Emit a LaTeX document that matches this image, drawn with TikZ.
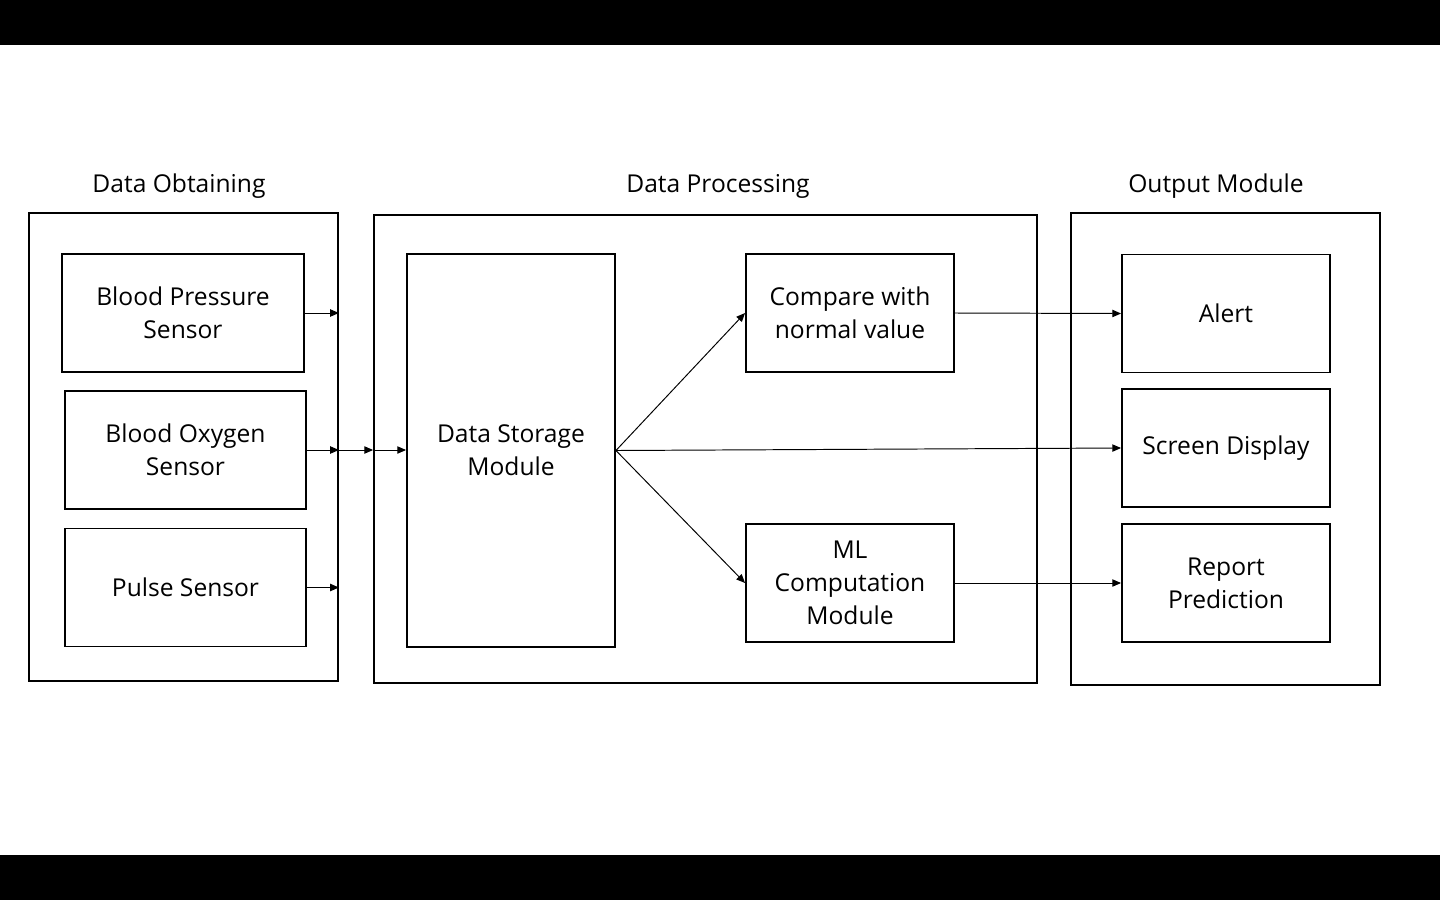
\documentclass[tikz,border=0pt]{standalone}
\usepackage{fontspec}
\setmainfont{Open Sans}
\usetikzlibrary{arrows.meta}
\tikzset{rahmen/.style = {
    shape = rectangle, draw = black, line width = 1.1pt,
    minimum width = 6.18cm, minimum height = 9.36cm
}}
\tikzset{kasten/.style = {
    shape = rectangle, draw = black, line width = 1.1pt, align = center,
    minimum width = 4.16cm, minimum height = 2.36cm,
    font = \fontsize{14}{18.7}\selectfont
}}
\tikzset{titel/.style = {
    font = \fontsize{14}{18.7}\selectfont
}}
\tikzset{pfeil/.style = {
    line width = 0.55pt, -{Triangle[length=5pt,width=4.2pt]}
}}

\begin{document}
\begin{tikzpicture}[x=0.02cm, y=-0.02cm]
  \useasboundingbox (0,0) rectangle (1440,900);
  \fill[black] (0,0) rectangle (1440,45);
  \fill[black] (0,855) rectangle (1440,900);

  % Rahmen
  \node (links) at (183.5,447) [rahmen] {};
  \node (mitte) at (705.5,449) [rahmen, minimum width=13.26cm] {};
  \node (rechts) at (1225.5,449) [rahmen, minimum height=9.44cm] {};
  \node (t1) at (179,186) [titel] {Data Obtaining};
  \node (t2) at (718,186) [titel] {Data Processing};
  \node (t3) at (1216,186) [titel] {Output Module};

  % Sensoren
  \node (bp) at (183,313) [kasten, minimum width=4.84cm] {Blood Pressure\\Sensor};
  \node (bo) at (185.5,450) [kasten, minimum width=4.82cm] {Blood Oxygen\\Sensor};
  \node (pulse) at (185.5,587.5) [kasten, minimum width=4.82cm] {Pulse Sensor};

  % Verarbeitung
  \node (store) at (511,450.5) [kasten, minimum height=7.86cm] {Data Storage\\Module};
  \node (cmp) at (850,313) [kasten] {Compare with\\normal value};
  \node (ml) at (850,583) [kasten] {ML\\Computation\\Module};

  % Ausgabe
  \node (alert) at (1226,313.5) [kasten] {Alert};
  \node (screen) at (1226,448) [kasten] {Screen Display};
  \node (report) at (1226,583) [kasten] {Report\\Prediction};

  % Pfeile
  \draw[pfeil] (bp.east) -- (bp.east -| links.east);
  \draw[pfeil] (bo.east) -- (bo.east -| links.east);
  \draw[pfeil] (bo.east -| links.east) -- (bo.east -| mitte.west);
  \draw[pfeil] (bo.east -| mitte.west) -- (bo.east -| store.west);
  \draw[pfeil] (pulse.east) -- (pulse.east -| links.east);
  \draw[pfeil] (store.east) -- (cmp.west);
  \draw[pfeil] (store.east) -- (ml.west);
  \draw[pfeil] (store.east) -- (screen.west);
  \draw[pfeil] (cmp.east) -- (alert.west);
  \draw[pfeil] (ml.east) -- (report.west);
\end{tikzpicture}
\end{document}
